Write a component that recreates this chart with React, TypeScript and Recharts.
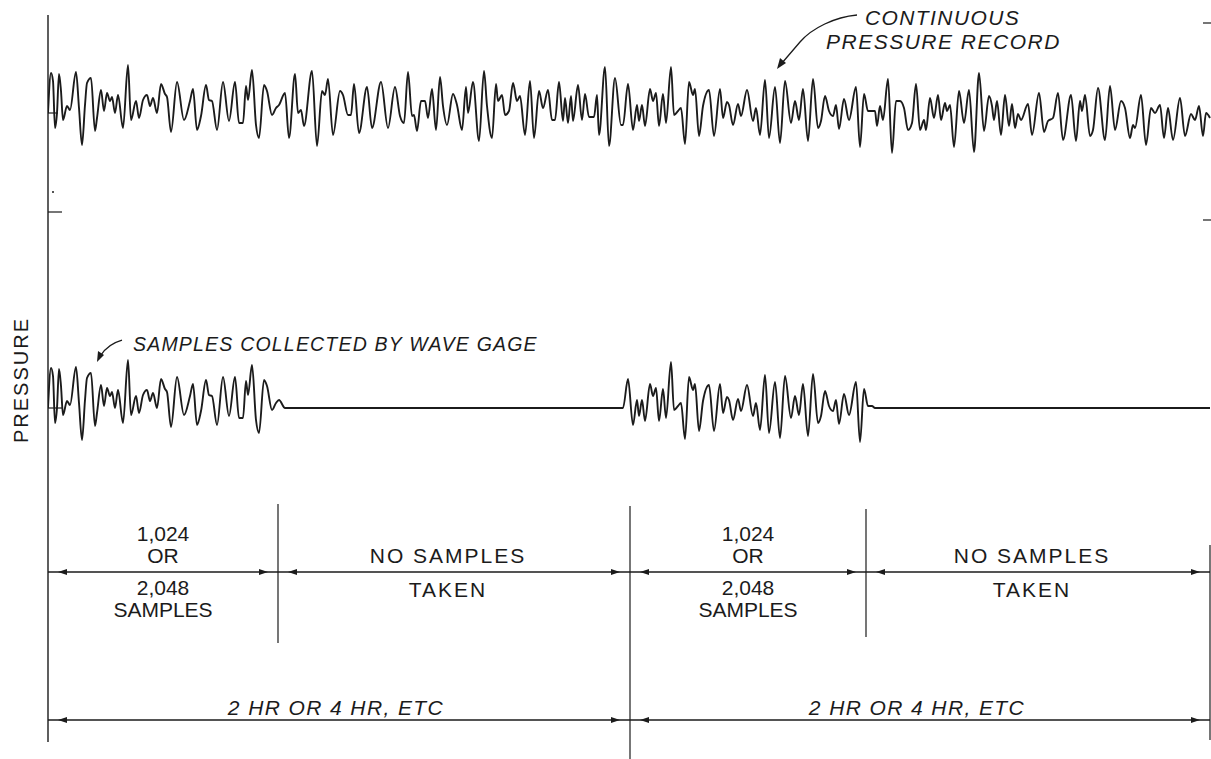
import { ComposedChart, Line, XAxis, YAxis, ReferenceLine, ReferenceDot } from "recharts";

// [time, pressure] (time in px-like units from the left frame)
const pressureRecord: [number, number][] = [
  [0, 0], [3, 40], [5, 32], [7, -15], [9, 0], [11, 39], [13, 22], [15, -7], [19, 7], [22, 3], [28, 41], [31, 5],
  [34, -32], [37, 8], [39, 30], [43, 35], [47, -18], [49, -5], [53, 23], [56, 2], [59, 20], [62, 12], [64, 16],
  [67, 0], [70, 18], [75, -15], [80, 48], [83, -7], [88, 12], [91, -5], [95, 13], [99, 18], [102, 7], [105, 15],
  [109, 0], [113, 29], [117, 19], [119, 16], [123, -19], [129, 31], [136, -7], [142, 12], [145, 24], [149, -17],
  [153, -3], [158, 28], [161, 13], [164, 12], [169, -17], [175, 31], [181, -8], [187, 31], [191, -10], [195, -10],
  [198, 27], [200, 13], [204, 43], [208, -12], [211, -25], [216, 28], [219, 22], [224, -2], [228, 5], [231, 8],
  [237, 20], [241, -25], [247, 39], [250, 0], [253, 3], [256, -13], [264, 42], [269, -33], [274, 22], [277, 18],
  [280, 34], [285, -22], [292, 22], [295, 18], [300, -2], [303, -2], [306, 29], [311, -20], [319, 26], [324, -15],
  [333, 31], [340, -15], [347, 26], [352, -3], [356, -10], [360, 41], [364, -3], [366, -2], [369, -18], [373, 12],
  [377, 12], [380, -5], [384, 24], [388, -17], [392, 36], [395, 7], [399, -12], [405, 19], [409, 8], [414, -17],
  [418, 26], [420, 0], [425, 31], [431, -28], [436, 42], [439, 7], [444, -25], [448, 29], [450, 12], [454, 18],
  [457, -2], [461, 2], [465, 30], [469, 12], [472, 17],
  [477, -22], [482, 32], [486, -25], [491, 22], [495, 5], [500, 23], [504, -7], [507, -7], [511, 31], [515, -8],
  [517, 15], [520, -10], [523, 17], [525, -8], [530, 28], [534, -7], [537, 19], [541, -4], [546, -4], [549, 18],
  [551, -22], [557, 46], [561, -33], [567, 35], [573, -12], [575, -12], [580, 29], [585, -17], [589, 8], [591, -8],
  [594, 8], [597, -13], [602, 24], [605, 12], [608, 20], [611, -13], [615, 19], [618, -10], [623, 46], [626, -2],
  [630, 2], [633, 5], [637, -31], [641, 31], [645, 18], [647, 24], [651, -23], [655, 7], [661, 23], [666, -23],
  [672, 24], [675, -5], [679, 11], [681, 8], [685, -12], [690, 9], [693, -3], [699, 23], [705, -8], [708, 5],
  [712, -22], [717, 33], [721, -25], [727, 26], [732, -30], [737, 32], [743, -10], [747, 12], [751, -7], [755, 24],
  [760, -28], [765, 34], [770, -15], [773, -8], [777, 17], [781, 2], [785, -3], [788, 8], [791, -16], [796, 14],
  [801, -7], [808, 26], [812, -34], [816, 19], [820, 2], [824, 2], [827, 2], [829, -13], [832, 7], [835, -7],
  [840, 34], [844, -40], [848, 12], [852, 12], [856, 5], [860, -17], [864, -10], [868, 29], [872, -17], [876, -7],
  [878, -17], [882, 15], [886, -5], [890, 18], [893, -7], [897, 10], [899, 2], [902, 8], [906, -34], [911, 22],
  [916, -10], [921, 23], [926, -39], [931, 40], [936, -18], [941, 17], [944, 7],
  [946, -7], [949, 12], [953, -22], [957, 18], [961, -13], [964, 9], [967, -15], [970, -1], [973, -7], [980, 9],
  [984, -22], [991, 20], [996, -19], [1000, -8], [1005, -5], [1010, 20], [1015, -27], [1023, 18], [1028, -28],
  [1032, 12], [1034, 2], [1037, 18], [1042, -23], [1045, -17], [1050, 25], [1057, -27], [1062, 27], [1067, -17],
  [1073, 12], [1077, 5], [1082, -25], [1085, -12], [1087, -15], [1093, 18], [1098, -32], [1103, 5], [1107, 0],
  [1112, 8], [1116, -25], [1120, 5], [1125, -27], [1132, 15], [1137, -23], [1143, -1], [1147, -7], [1151, 7],
  [1155, -23], [1158, 0], [1162, -5],
];

// stretches the wave gage actually records
const sampleWindows: [number, number][] = [[0, 232], [578, 824]];

// dimension marks under the traces
const burstMarks = [0, 230, 582, 818, 1162];
const cycleMarks = [0, 582, 1162];

const burstLabel = ["1,024", "OR", "2,048", "SAMPLES"];
const gapLabel = ["NO SAMPLES", "TAKEN"];
const cycleLabel = "2 HR OR 4 HR, ETC";

const W = 1211;
const H = 759;
const LEFT = 48;
const TOP_BASE = 113;
const LOW_BASE = 408;
const ROW1 = 572;
const ROW2 = 720;
const INK = "#1b1b1b";
const FONT = "'Liberation Sans', Arial, Helvetica, sans-serif";

const rows = pressureRecord.map(([t, v]) => ({
  t,
  continuous: v,
  sampled: sampleWindows.some(([a, b]) => t >= a && t <= b) ? v : 0,
}));

// eslint-disable-next-line @typescript-eslint/no-explicit-any
const arrowHead = (dir: number) => (p: any) => {
  const { cx, cy } = p;
  const b = cx - dir * 9;
  return <path d={`M${cx},${cy} L${b},${cy - 3} L${b},${cy + 3} Z`} fill={INK} />;
};

// eslint-disable-next-line @typescript-eslint/no-explicit-any
const textShape = (txt: string, size: number, spacing: number, italic: boolean, anchor = "middle") => (p: any) => (
  <text
    x={p.cx}
    y={p.cy}
    textAnchor={anchor}
    fontFamily={FONT}
    fontSize={size}
    fontStyle={italic ? "italic" : "normal"}
    letterSpacing={spacing}
    fill={INK}
  >
    {txt}
  </text>
);

function seg(key: string, t1: number, y1: number, t2: number, y2: number, w = 1.2) {
  return (
    <ReferenceLine
      key={key}
      yAxisId="px"
      segment={[{ x: t1, y: y1 }, { x: t2, y: y2 }]}
      stroke={INK}
      strokeWidth={w}
      ifOverflow="visible"
    />
  );
}

function note(key: string, t: number, py: number, shape: (p: unknown) => React.ReactElement) {
  return <ReferenceDot key={key} yAxisId="px" x={t} y={py} r={1} shape={shape} ifOverflow="visible" />;
}

function dimensionRow(marks: number[], y: number, prefix: string) {
  const out: React.ReactElement[] = [seg(`${prefix}-line`, marks[0], y, marks[marks.length - 1], y, 1.3)];
  for (let i = 0; i < marks.length - 1; i++) {
    out.push(note(`${prefix}-l${i}`, marks[i] + 10, y, arrowHead(-1)));
    out.push(note(`${prefix}-r${i}`, marks[i + 1] - 10, y, arrowHead(1)));
  }
  return out;
}

export default function App() {
  const burstLineY = [541, 563, 595, 617];
  const gapLineY = [563, 597];
  return (
    <div style={{ position: "absolute", left: 0, top: 0, width: W, height: H, background: "#fff" }}>
      <ComposedChart width={W} height={H} data={rows} margin={{ top: 0, right: 0, bottom: 0, left: LEFT }}>
        <XAxis dataKey="t" type="number" domain={[0, W - LEFT]} allowDataOverflow hide />
        <YAxis yAxisId="top" type="number" domain={[TOP_BASE - H, TOP_BASE]} allowDataOverflow hide />
        <YAxis yAxisId="low" type="number" domain={[LOW_BASE - H, LOW_BASE]} allowDataOverflow hide />
        <YAxis yAxisId="px" type="number" domain={[0, H]} reversed allowDataOverflow hide />

        <Line
          yAxisId="top"
          dataKey="continuous"
          type="monotone"
          stroke={INK}
          strokeWidth={1.9}
          dot={false}
          isAnimationActive={false}
        />
        <Line
          yAxisId="low"
          dataKey="sampled"
          type="monotone"
          stroke={INK}
          strokeWidth={1.9}
          dot={false}
          isAnimationActive={false}
        />

        {/* frame and tick marks */}
        {seg("frame-left", 0, 15, 0, 742, 1.4)}
        {seg("tick-left", 0, 212, 14, 212)}
        {seg("base-top", 0, TOP_BASE, 10, TOP_BASE)}
        {seg("base-low", 0, LOW_BASE, 14, LOW_BASE)}
        {seg("tick-r1", 1155, 23, 1163, 23)}
        {seg("tick-r2", 1155, 220, 1163, 220)}
        {note("speck", 5, 192, (p: any) => <circle cx={p.cx} cy={p.cy} r={1} fill={INK} />)}

        {/* interval boundaries */}
        {seg("v-230", 230, 504, 230, 643)}
        {seg("v-582", 582, 506, 582, H)}
        {seg("v-818", 818, 509, 818, 637)}
        {seg("v-1162", 1162, 545, 1162, 740)}

        {dimensionRow(burstMarks, ROW1, "r1")}
        {dimensionRow(cycleMarks, ROW2, "r2")}

        {/* sample counts under each burst */}
        {[0, 2].map((i) =>
          burstLabel.map((s, j) =>
            note(`bl-${i}-${j}`, (burstMarks[i] + burstMarks[i + 1]) / 2, burstLineY[j], textShape(s, 21, 0, false))
          )
        )}
        {[1, 3].map((i) =>
          gapLabel.map((s, j) =>
            note(`gl-${i}-${j}`, (burstMarks[i] + burstMarks[i + 1]) / 2 - 6, gapLineY[j], textShape(s, 21, 2, false))
          )
        )}
        {[0, 1].map((i) =>
          note(`cl-${i}`, (cycleMarks[i] + cycleMarks[i + 1]) / 2 - 3, 715, textShape(cycleLabel, 21, 1.4, true))
        )}

        {/* callouts */}
        {note("cont-1", 817, 25, textShape("CONTINUOUS", 21, 1.4, true, "start"))}
        {note("cont-2", 778, 49, textShape("PRESSURE RECORD", 21, 1.5, true, "start"))}
        {note("cont-arrow", 729, 69, (p: any) => (
          <g>
            <path
              d={`M${p.cx + 80},${p.cy - 54} C${p.cx + 58},${p.cy - 52} ${p.cx + 35},${p.cy - 41} ${p.cx + 23},${p.cy - 27} L${p.cx + 5},${p.cy - 6}`}
              fill="none"
              stroke={INK}
              strokeWidth={1.3}
            />
            <path d={`M${p.cx},${p.cy} L${p.cx + 3},${p.cy - 11} L${p.cx + 9},${p.cy - 6} Z`} fill={INK} />
          </g>
        ))}
        {note("samp-1", 85, 351, textShape("SAMPLES COLLECTED BY WAVE GAGE", 19.5, 1.2, true, "start"))}
        {note("samp-arrow", 49, 362, (p: any) => (
          <g>
            <path
              d={`M${p.cx + 25},${p.cy - 22} Q${p.cx + 11},${p.cy - 18} ${p.cx + 4},${p.cy - 7}`}
              fill="none"
              stroke={INK}
              strokeWidth={1.3}
            />
            <path d={`M${p.cx},${p.cy} L${p.cx + 1},${p.cy - 11} L${p.cx + 7},${p.cy - 7} Z`} fill={INK} />
          </g>
        ))}
        {note("axis-title", 0, 380, (p: any) => (
          <text
            x={p.cx - 20}
            y={p.cy}
            transform={`rotate(-90 ${p.cx - 20} ${p.cy})`}
            textAnchor="middle"
            fontFamily={FONT}
            fontSize={20}
            letterSpacing={2}
            fill={INK}
          >
            PRESSURE
          </text>
        ))}
      </ComposedChart>
    </div>
  );
}
